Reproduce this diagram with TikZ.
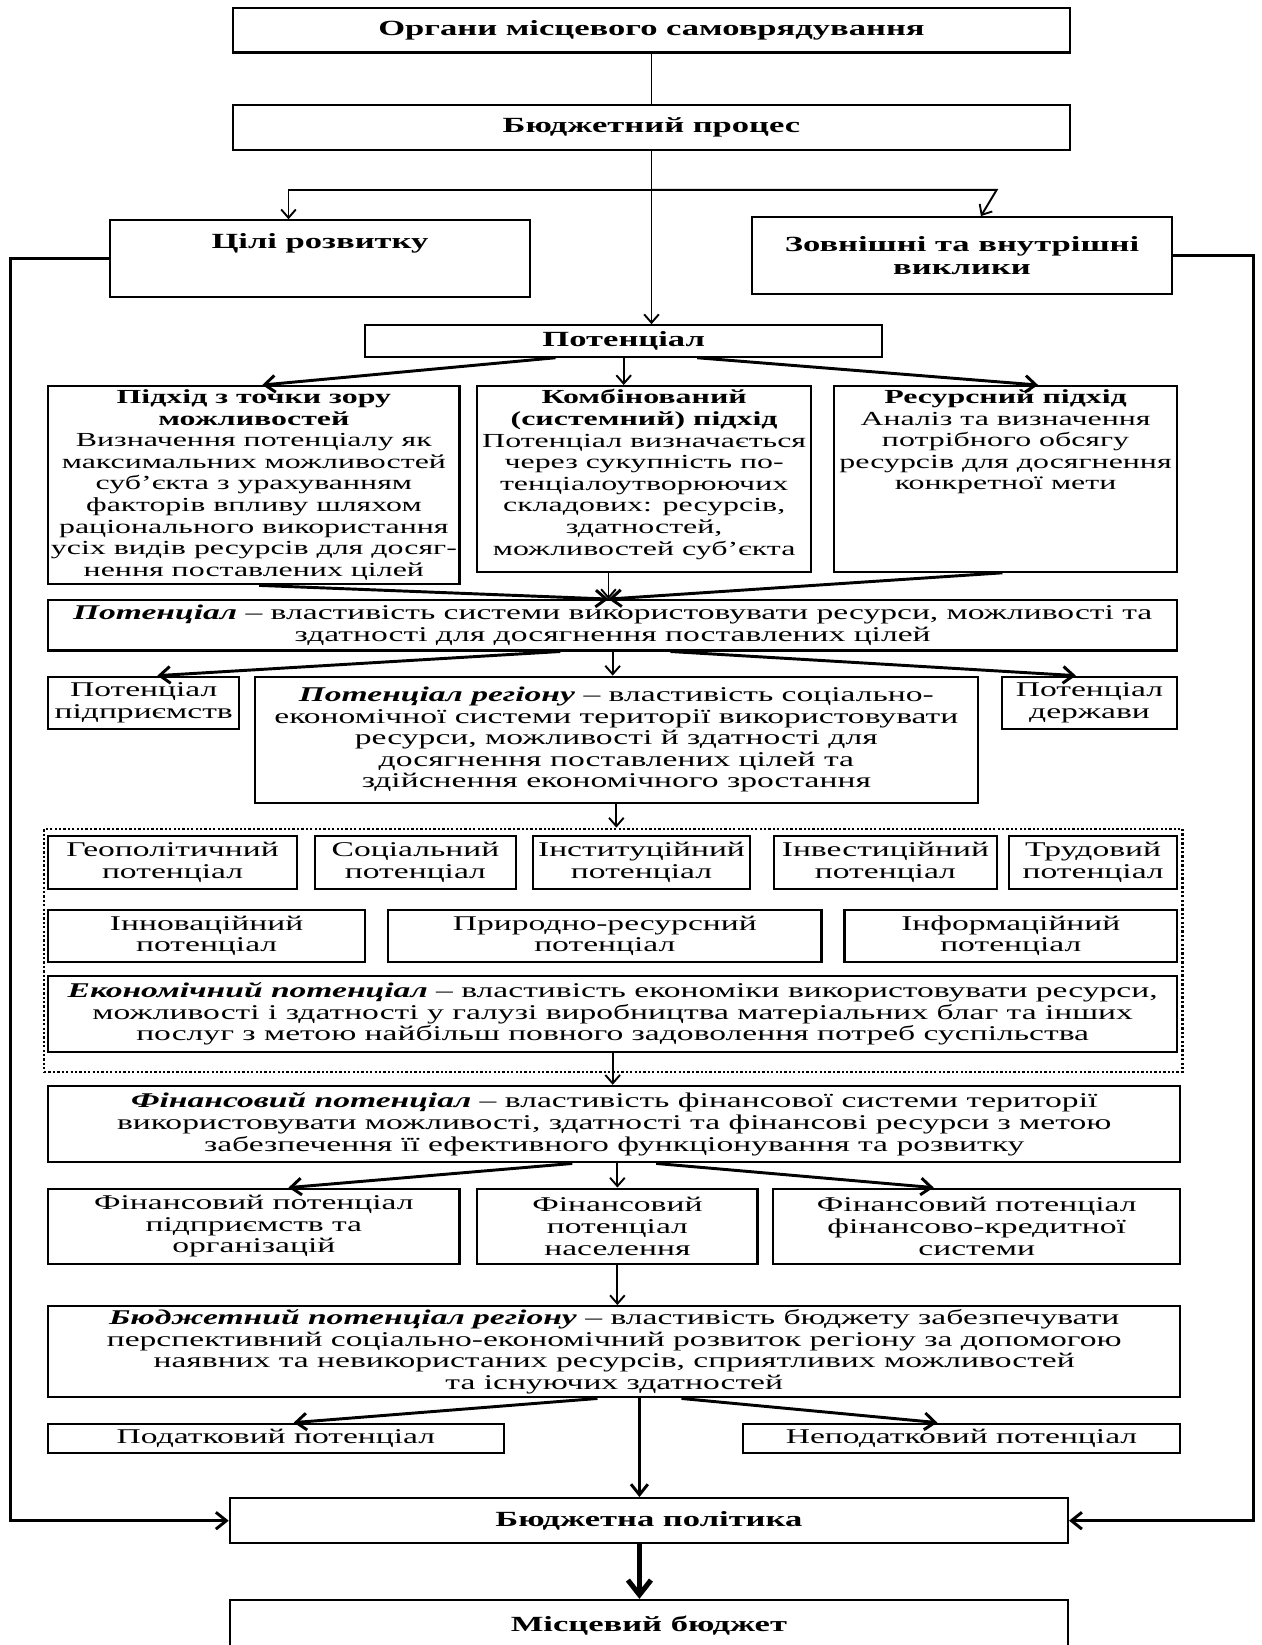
\documentclass[tikz,border=0pt]{standalone}
\usepackage{fontspec}
\setmainfont{Liberation Serif}[FakeStretch=1.6]
\usetikzlibrary{positioning,calc,arrows.meta}
\tikzset{
  wh/.style 2 args={minimum width=#1*0.5pt, minimum height=#2*0.5pt},
  bx/.style={draw, line width=1pt, align=center, inner sep=1pt, font=\fontsize{10}{10.3}\selectfont},
  hd/.style={bx, font=\fontsize{10.3}{11}\selectfont\bfseries},
  txt/.style={align=center, inner sep=0pt, font=\fontsize{9.5}{10.3}\selectfont},
  grpbox/.style={draw, densely dotted, line width=1.1pt},
  arr/.style={-{Straight Barb[length=4pt,width=7pt]}, line width=0.9pt},
  farr/.style={-{Straight Barb[length=5pt,width=8pt]}, line width=1.4pt},
  big/.style={-{Straight Barb[length=7pt,width=11pt]}, line width=2.4pt},
}
\begin{document}
\begin{tikzpicture}[x=0.5pt,y=-0.5pt]
  \useasboundingbox (0,0) rectangle (1202,1568);
  % upper part
  \node[hd, wh={798}{42}] (organy) at (621,29) {Органи місцевого самоврядування};
  \node[hd, wh={798}{43}] (proces) at (621,121.5) {Бюджетний процес};
  \node[bx, wh={400}{73}] (tsili) at (305,246.5) {};
  \node[hd, draw=none] (tsilit) at ($(tsili.north)+(0,23)$) {Цілі розвитку};
  \node[hd, wh={400}{73}] (vyklyky) at (917,243.5) {Зовнішні та внутрішні\\виклики};
  \node[hd, wh={493}{30}] (potent) at (594.5,325) {Потенціал};
  %
  \node[bx, wh={392}{189}] (pidA) at (242,462.5) {};
  \node[txt, below=2pt of pidA.north] (pidAt) {\textbf{Підхід з точки зору}\\\textbf{можливостей}\\Визначення потенціалу як\\максимальних можливостей\\суб’єкта з урахуванням\\факторів впливу шляхом\\раціонального використання\\усіх видів ресурсів для досяг-\\нення поставлених цілей};
  \node[bx, wh={318}{177}] (pidB) at (614,456.5) {};
  \node[txt, below=2pt of pidB.north] (pidBt) {\textbf{Комбінований}\\\textbf{(системний) підхід}\\Потенціал визначається\\через сукупність по-\\тенціалоутворюючих\\складових: ресурсів,\\здатностей,\\можливостей суб’єкта};
  \node[bx, wh={327}{177}] (pidC) at (958.5,456.5) {};
  \node[txt, below=2pt of pidC.north] (pidCt) {\textbf{Ресурсний підхід}\\Аналіз та визначення\\потрібного обсягу\\ресурсів для досягнення\\конкретної мети};
  %
  \node[bx, wh={1076}{48}] (defpot) at (584,596) {\textbf{\textit{Потенціал}} – властивість системи використовувати ресурси, можливості та\\здатності для досягнення поставлених цілей};
  \node[bx, wh={182}{50}] (pidpr) at (137,670) {Потенціал\\підприємств};
  \node[bx, wh={689}{120}] (region) at (587.5,705) {\textbf{\textit{Потенціал регіону}} – властивість соціально-\\економічної системи території використовувати\\ресурси, можливості й здатності для\\досягнення поставлених цілей та\\здійснення економічного зростання};
  \node[bx, wh={167}{50}] (derzh) at (1038.5,670) {Потенціал\\держави};
  %
  \node[grpbox, wh={1085}{232}] (grp) at (584.5,906) {};
  \node[bx, wh={237}{50}] (geo) at (164.5,822) {Геополітичний\\потенціал};
  \node[bx, wh={192}{50}] (soc) at (396,822) {Соціальний\\потенціал};
  \node[bx, wh={207}{50}] (inst) at (611.5,822) {Інституційний\\потенціал};
  \node[bx, wh={212}{50}] (inv) at (844,822) {Інвестиційний\\потенціал};
  \node[bx, wh={160}{50}] (trud) at (1042,822) {Трудовий\\потенціал};
  \node[bx, wh={302}{50}] (inn) at (197,892) {Інноваційний\\потенціал};
  \node[bx, wh={413}{50}] (pryr) at (576.5,892) {Природно-ресурсний\\потенціал};
  \node[bx, wh={317}{50}] (inf) at (963.5,892) {Інформаційний\\потенціал};
  \node[bx, wh={1076}{73}] (econ) at (584,966.5) {\textbf{\textit{Економічний потенціал}} – властивість економіки використовувати ресурси,\\можливості і здатності у галузі виробництва матеріальних благ та інших\\послуг з метою найбільш повного задоволення потреб суспільства};
  %
  \node[bx, wh={1079}{73}] (fin) at (585.5,1071.5) {\textbf{\textit{Фінансовий потенціал}} – властивість фінансової системи території\\використовувати можливості, здатності та фінансові ресурси з метою\\забезпечення її ефективного функціонування та розвитку};
  \node[bx, wh={392}{72}] (fpid) at (242,1169) {Фінансовий потенціал\\підприємств та\\організацій};
  \node[bx, wh={267}{72}] (fnas) at (588.5,1169) {Фінансовий\\потенціал\\населення};
  \node[bx, wh={388}{72}] (fkr) at (931,1169) {Фінансовий потенціал\\фінансово-кредитної\\системи};
  \node[bx, wh={1079}{87}] (bud) at (585.5,1288.5) {\textbf{\textit{Бюджетний потенціал регіону}} – властивість бюджету забезпечувати\\перспективний соціально-економічний розвиток регіону за допомогою\\наявних та невикористаних ресурсів, сприятливих можливостей\\та існуючих здатностей};
  \node[bx, wh={434}{28}] (pod) at (263,1371) {Податковий потенціал};
  \node[bx, wh={417}{28}] (nepod) at (916.5,1371) {Неподатковий потенціал};
  \node[hd, wh={799}{43}] (polit) at (618.5,1449.5) {Бюджетна політика};
  \node[hd, wh={799}{50}] (mbud) at (618.5,1550) {Місцевий бюджет};
  %
  \draw[line width=0.9pt] (organy.south) -- (proces.north);
  \coordinate (br) at ($(proces.south)+(0,37)$);
  \draw[arr] (br) -| ($(tsili.north)+(-30,0)$);
  \draw[arr] (br) -- ($(br)+(329,0)$) -- ($(vyklyky.north)+(18,0)$);
  \draw[arr] (proces.south) -- (proces.south |- potent.north);
  %
  \draw[farr] ($(potent.south)+(-65,0)$) -- ($(pidA.north)+(8,0)$);
  \draw[arr] (potent.south) -- (potent.south |- pidB.north);
  \draw[farr] ($(potent.south)+(70,0)$) -- ($(pidC.north)+(31,0)$);
  %
  \draw[farr] ($(pidA.south)+(5,0)$) -- ($(defpot.north)+(-4,0)$);
  \draw[arr] ($(pidB.south)+(-34,0)$) -- ($(defpot.north)+(-4,0)$);
  \draw[farr] ($(pidC.south)+(-3,0)$) -- ($(defpot.north)+(-4,0)$);
  %
  \draw[farr] ($(defpot.south)+(-50,0)$) -- ($(pidpr.north)+(13,0)$);
  \draw[arr] (defpot.south) -- (defpot.south |- region.north);
  \draw[farr] ($(defpot.south)+(55,0)$) -- ($(derzh.north)+(-13,0)$);
  \draw[arr] (region.south) -- (region.south |- grp.north);
  \draw[arr] (econ.south) -- (econ.south |- fin.north);
  %
  \draw[farr] ($(fin.south)+(-40,0)$) -- ($(fpid.north)+(33,0)$);
  \draw[arr] (fin.south -| fnas.north) -- (fnas.north);
  \draw[farr] ($(fin.south)+(40,0)$) -- ($(fkr.north)+(-41,0)$);
  \draw[arr] (fnas.south) -- (fnas.south |- bud.north);
  %
  \coordinate (bs) at ($(bud.south)+(24,0)$);
  \draw[farr] ($(bs)+(-40,0)$) -- ($(pod.north)+(17,0)$);
  \draw[farr] ($(bs)+(40,0)$) -- ($(nepod.north)+(-23,0)$);
  \draw[farr] (bs) -- (bs |- polit.north);
  \draw[big] (polit.south -| bs) -- (bs |- mbud.north);
  %
  \coordinate (lc) at (10,1449.5);
  \coordinate (rc) at (1195,1449.5);
  \draw[farr] (tsili.west) -| (lc) -- (polit.west);
  \draw[farr] (vyklyky.east) -| (rc) -- (polit.east);
\end{tikzpicture}
\end{document}
